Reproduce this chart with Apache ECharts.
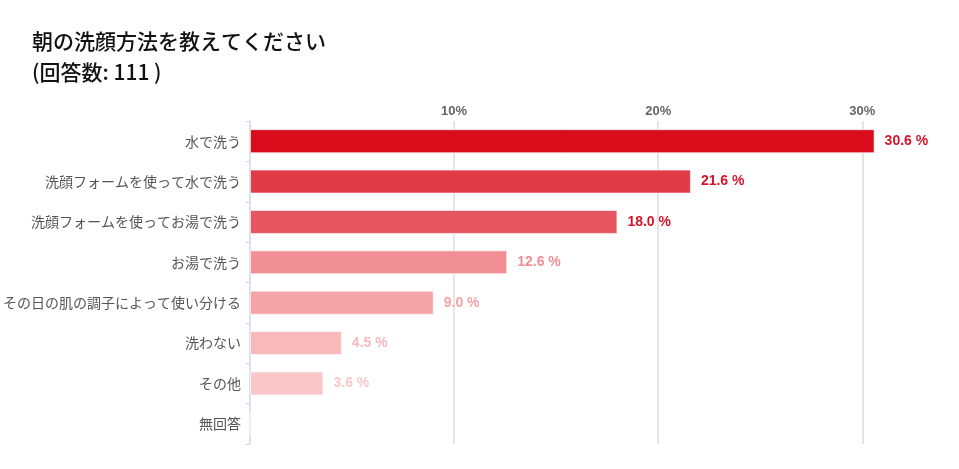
<!DOCTYPE html>
<html>
<head>
<meta charset="utf-8">
<script src="https://cdn.jsdelivr.net/npm/echarts@6/dist/echarts.min.js"></script>
<style>
html,body{margin:0;padding:0;background:#fff;}
#chart{width:959px;height:469px;}
</style>
</head>
<body>
<div id="chart"></div>
<script>
const titleLines = ['朝の洗顔方法を教えてください', '(回答数: 111 )'];
const categories = ['水で洗う', '洗顔フォームを使って水で洗う', '洗顔フォームを使ってお湯で洗う', 'お湯で洗う', 'その日の肌の調子によって使い分ける', '洗わない', 'その他', '無回答'];
const values = [30.6, 21.6, 18.0, 12.6, 9.0, 4.5, 3.6, 0];
const barColors = ['#d80c1a', '#e03c48', '#e55660', '#f08f95', '#f4a3a7', '#f8b9bd', '#fac8cb', '#fbd5d7'];
const labelColors = ['#d5152a', '#d5152a', '#d5152a', '#f08f95', '#f4a3a7', '#f8b9bd', '#fac8cb', '#fbd5d7'];
const tickValues = [10, 20, 30];

const chart = echarts.init(document.getElementById('chart'));
chart.setOption({
  animation: false,
  backgroundColor: '#fff',
  title: {
    text: titleLines.join('\n'),
    left: 27, top: 21,
    padding: 5,
    textStyle: { fontFamily: 'Noto Sans CJK JP', fontSize: 21, fontWeight: 500, color: '#111', lineHeight: 31 }
  },
  grid: { left: 250, top: 121, width: 694, height: 323, containLabel: false },
  xAxis: {
    type: 'value', position: 'top', min: 0, max: 34, interval: 10,
    axisLine: { show: false }, axisTick: { show: false },
    axisLabel: {
      margin: 3,
      formatter: v => tickValues.includes(v) ? v + '%' : '',
      color: '#666', fontFamily: 'Liberation Sans', fontWeight: 'bold', fontSize: 13
    },
    splitLine: { show: true, showMinLine: false, showMaxLine: false, lineStyle: { color: '#dcdcdc', width: 1.5 } }
  },
  yAxis: {
    type: 'category', inverse: true, data: categories,
    axisLine: { show: true, lineStyle: { color: '#ccd6eb', width: 1.5 } },
    axisTick: { show: true, length: 4, lineStyle: { color: '#ccd6eb' } },
    axisLabel: { margin: 9, color: '#555', fontFamily: 'Noto Sans CJK JP', fontSize: 14, padding: [0, 0, 7, 0] }
  },
  series: [{
    type: 'bar', barWidth: 24,
    data: values.map((v, i) => ({
      value: v,
      itemStyle: { color: barColors[i] },
      label: { color: labelColors[i] }
    })),
    itemStyle: { borderColor: 'rgba(255,255,255,0.6)', borderWidth: 1 },
    label: {
      show: true, position: 'right', distance: 10,
      formatter: p => p.value > 0 ? p.value.toFixed(1) + ' %' : '',
      fontFamily: 'Liberation Sans', fontWeight: 'bold', fontSize: 14
    }
  }]
});
</script>
</body>
</html>
